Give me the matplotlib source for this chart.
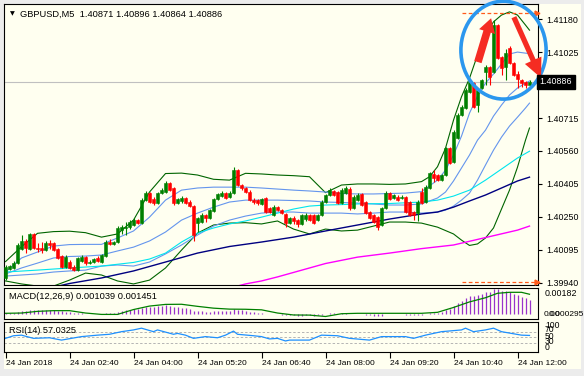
import numpy as np
import matplotlib
matplotlib.use("Agg")
import matplotlib.pyplot as plt
import matplotlib.transforms as mtransforms
from matplotlib.patches import Ellipse, Rectangle

plt.rcParams['font.family'] = ['Liberation Sans', 'DejaVu Sans']

# ---- GBPUSD M5 candles (24 Jan 2018, 01:20 .. 12:15) ----
opens = [1.39963, 1.40005, 1.40010, 1.40033, 1.40099, 1.40137, 1.40099, 1.40170, 1.40104, 1.40104,
         1.40094, 1.40127, 1.40127, 1.40099, 1.40066, 1.40014, 1.40038, 1.40014, 1.40000, 1.40043,
         1.40061, 1.40033, 1.40038, 1.40057, 1.40038, 1.40066, 1.40132, 1.40123, 1.40132, 1.40188,
         1.40198, 1.40202, 1.40212, 1.40235, 1.40221, 1.40329, 1.40362, 1.40334, 1.40315, 1.40362,
         1.40367, 1.40409, 1.40386, 1.40315, 1.40325, 1.40339, 1.40320, 1.40301, 1.40221, 1.40226,
         1.40259, 1.40245, 1.40278, 1.40334, 1.40348, 1.40362, 1.40343, 1.40362, 1.40470, 1.40400,
         1.40386, 1.40367, 1.40329, 1.40329, 1.40311, 1.40339, 1.40292, 1.40259, 1.40296, 1.40282,
         1.40264, 1.40221, 1.40245, 1.40235, 1.40217, 1.40240, 1.40259, 1.40259, 1.40235, 1.40259,
         1.40320, 1.40353, 1.40372, 1.40367, 1.40315, 1.40362, 1.40381, 1.40292, 1.40329, 1.40358,
         1.40320, 1.40273, 1.40259, 1.40249, 1.40212, 1.40292, 1.40362, 1.40339, 1.40343, 1.40339,
         1.40343, 1.40320, 1.40273, 1.40268, 1.40367, 1.40320, 1.40386, 1.40452, 1.40447, 1.40423,
         1.40447, 1.40574, 1.40508, 1.40621, 1.40729, 1.40762, 1.40837, 1.40879, 1.40776, 1.40856,
         1.40931, 1.40954, 1.40931, 1.41152, 1.41001, 1.40954, 1.41044, 1.40973, 1.40922, 1.40893,
         1.40884, 1.40871]
highs = [1.40024, 1.40024, 1.40043, 1.40127, 1.40165, 1.40146, 1.40174, 1.40174, 1.40127, 1.40132,
         1.40137, 1.40141, 1.40132, 1.40104, 1.40071, 1.40071, 1.40047, 1.40024, 1.40061, 1.40071,
         1.40066, 1.40047, 1.40057, 1.40066, 1.40076, 1.40141, 1.40146, 1.40137, 1.40207, 1.40212,
         1.40226, 1.40235, 1.40245, 1.40240, 1.40339, 1.40372, 1.40367, 1.40343, 1.40367, 1.40386,
         1.40419, 1.40414, 1.40390, 1.40339, 1.40348, 1.40343, 1.40329, 1.40306, 1.40249, 1.40268,
         1.40264, 1.40287, 1.40339, 1.40362, 1.40372, 1.40367, 1.40372, 1.40484, 1.40475, 1.40405,
         1.40390, 1.40376, 1.40339, 1.40334, 1.40339, 1.40343, 1.40296, 1.40306, 1.40301, 1.40287,
         1.40268, 1.40249, 1.40254, 1.40240, 1.40264, 1.40268, 1.40264, 1.40264, 1.40264, 1.40329,
         1.40358, 1.40386, 1.40376, 1.40372, 1.40386, 1.40395, 1.40390, 1.40353, 1.40362, 1.40362,
         1.40325, 1.40278, 1.40264, 1.40254, 1.40296, 1.40372, 1.40367, 1.40358, 1.40353, 1.40353,
         1.40348, 1.40325, 1.40278, 1.40329, 1.40386, 1.40400, 1.40461, 1.40470, 1.40452, 1.40452,
         1.40578, 1.40578, 1.40658, 1.40738, 1.40776, 1.40856, 1.40893, 1.40884, 1.40856, 1.40898,
         1.40964, 1.40959, 1.41175, 1.41157, 1.41006, 1.41039, 1.41053, 1.40978, 1.40936, 1.40898,
         1.40889, 1.40896]
lows = [1.39953, 1.40000, 1.40005, 1.40029, 1.40094, 1.40080, 1.40094, 1.40099, 1.40085, 1.40080,
        1.40090, 1.40099, 1.40090, 1.40052, 1.40010, 1.40010, 1.40005, 1.39996, 1.39996, 1.40038,
        1.40024, 1.40029, 1.40033, 1.40038, 1.40033, 1.40061, 1.40118, 1.40118, 1.40127, 1.40170,
        1.40165, 1.40193, 1.40207, 1.40217, 1.40217, 1.40325, 1.40315, 1.40306, 1.40311, 1.40358,
        1.40362, 1.40372, 1.40306, 1.40311, 1.40315, 1.40311, 1.40296, 1.40137, 1.40179, 1.40221,
        1.40226, 1.40240, 1.40273, 1.40329, 1.40343, 1.40334, 1.40339, 1.40358, 1.40395, 1.40376,
        1.40362, 1.40325, 1.40311, 1.40306, 1.40306, 1.40268, 1.40268, 1.40254, 1.40278, 1.40264,
        1.40202, 1.40217, 1.40217, 1.40202, 1.40212, 1.40231, 1.40231, 1.40217, 1.40231, 1.40254,
        1.40315, 1.40348, 1.40348, 1.40311, 1.40311, 1.40358, 1.40282, 1.40287, 1.40325, 1.40301,
        1.40264, 1.40240, 1.40221, 1.40188, 1.40207, 1.40287, 1.40329, 1.40334, 1.40325, 1.40334,
        1.40268, 1.40254, 1.40235, 1.40231, 1.40311, 1.40315, 1.40381, 1.40414, 1.40419, 1.40419,
        1.40442, 1.40499, 1.40503, 1.40616, 1.40724, 1.40757, 1.40832, 1.40762, 1.40743, 1.40851,
        1.40870, 1.40870, 1.40926, 1.40992, 1.40917, 1.40893, 1.40969, 1.40912, 1.40856, 1.40860,
        1.40856, 1.40864]
closes = [1.40014, 1.40019, 1.40033, 1.40118, 1.40137, 1.40104, 1.40170, 1.40104, 1.40099, 1.40094,
          1.40127, 1.40118, 1.40094, 1.40057, 1.40014, 1.40061, 1.40010, 1.40000, 1.40057, 1.40061,
          1.40033, 1.40038, 1.40052, 1.40043, 1.40071, 1.40132, 1.40123, 1.40132, 1.40198, 1.40202,
          1.40202, 1.40226, 1.40235, 1.40221, 1.40329, 1.40362, 1.40320, 1.40315, 1.40362, 1.40376,
          1.40409, 1.40376, 1.40315, 1.40334, 1.40339, 1.40315, 1.40301, 1.40165, 1.40245, 1.40259,
          1.40245, 1.40282, 1.40334, 1.40358, 1.40362, 1.40339, 1.40362, 1.40470, 1.40400, 1.40386,
          1.40367, 1.40329, 1.40320, 1.40315, 1.40334, 1.40273, 1.40273, 1.40296, 1.40282, 1.40268,
          1.40221, 1.40245, 1.40231, 1.40217, 1.40259, 1.40259, 1.40235, 1.40221, 1.40259, 1.40320,
          1.40353, 1.40376, 1.40353, 1.40315, 1.40376, 1.40386, 1.40292, 1.40343, 1.40353, 1.40306,
          1.40268, 1.40245, 1.40226, 1.40202, 1.40292, 1.40362, 1.40334, 1.40353, 1.40329, 1.40343,
          1.40273, 1.40259, 1.40259, 1.40320, 1.40315, 1.40390, 1.40456, 1.40433, 1.40423, 1.40447,
          1.40574, 1.40503, 1.40649, 1.40729, 1.40766, 1.40846, 1.40884, 1.40766, 1.40846, 1.40893,
          1.40954, 1.40907, 1.41152, 1.40997, 1.40950, 1.41020, 1.40973, 1.40917, 1.40898, 1.40879,
          1.40870, 1.40886]

# ---- indicator lines (bar index, price) ----
bb_bars = [0, 4, 8, 12, 16, 20, 24, 28, 32, 36, 40, 44, 48, 52, 56, 60, 64, 68, 72, 76, 80, 84,
           88, 92, 96, 100, 104, 106, 108, 110, 112, 114, 116, 118, 120, 122, 124, 126, 128, 130, 131]
bb_upper = [1.40040, 1.40110, 1.40173, 1.40181, 1.40183, 1.40176, 1.40155, 1.40170, 1.40235, 1.40367,
            1.40454, 1.40456, 1.40447, 1.40427, 1.40423, 1.40455, 1.40452, 1.40447, 1.40444, 1.40439,
            1.40364, 1.40400, 1.40405, 1.40405, 1.40403, 1.40405, 1.40416, 1.40439, 1.40486, 1.40573,
            1.40705, 1.40815, 1.40902, 1.41011, 1.41105, 1.41167, 1.41199, 1.41214, 1.41199, 1.41152,
            1.41128]
bbl_bars = [0, 4, 8, 12, 16, 20, 24, 28, 32, 36, 40, 44, 48, 52, 56, 60, 64, 68, 72, 76, 80, 84,
            88, 92, 96, 100, 104, 108, 112, 114, 116, 118, 120, 122, 124, 126, 128, 130, 131]
bb_lower = [1.39949, 1.39935, 1.39925, 1.39925, 1.39953, 1.39986, 1.39977, 1.39949, 1.39935, 1.39953,
            1.40010, 1.40094, 1.40174, 1.40212, 1.40221, 1.40223, 1.40217, 1.40231, 1.40193, 1.40170,
            1.40193, 1.40184, 1.40188, 1.40207, 1.40226, 1.40226, 1.40221, 1.40202, 1.40170, 1.40141,
            1.40116, 1.40123, 1.40151, 1.40198, 1.40287, 1.40376, 1.40484, 1.40611, 1.40668]
band_bars = [0, 4, 8, 12, 16, 20, 24, 28, 32, 36, 40, 44, 48, 52, 56, 60, 64, 68, 72, 76, 80, 84,
             88, 92, 96, 100, 104, 108, 110, 112, 114, 116, 118, 120, 122, 124, 126, 128, 130, 131]
blue_upper = [1.39991, 1.40057, 1.40085, 1.40113, 1.40120, 1.40121, 1.40121, 1.40151, 1.40184, 1.40249,
              1.40329, 1.40376, 1.40386, 1.40390, 1.40390, 1.40390, 1.40386, 1.40381, 1.40376, 1.40372,
              1.40367, 1.40360, 1.40358, 1.40358, 1.40360, 1.40362, 1.40369, 1.40423, 1.40470, 1.40541,
              1.40630, 1.40738, 1.40818, 1.40879, 1.40922, 1.40969, 1.41016, 1.41025, 1.41020, 1.41018]
blue_mid = [1.39982, 1.40010, 1.40033, 1.40057, 1.40064, 1.40066, 1.40071, 1.40090, 1.40108, 1.40137,
            1.40179, 1.40235, 1.40268, 1.40296, 1.40320, 1.40329, 1.40329, 1.40329, 1.40327, 1.40325,
            1.40320, 1.40318, 1.40315, 1.40311, 1.40306, 1.40306, 1.40311, 1.40339, 1.40367, 1.40419,
            1.40480, 1.40541, 1.40611, 1.40658, 1.40724, 1.40776, 1.40823, 1.40856, 1.40879, 1.40889]
blue_lower = [1.39972, 1.39977, 1.39982, 1.39991, 1.39996, 1.40000, 1.40019, 1.40024, 1.40019, 1.40038,
              1.40076, 1.40118, 1.40165, 1.40207, 1.40235, 1.40254, 1.40268, 1.40273, 1.40273, 1.40268,
              1.40268, 1.40268, 1.40264, 1.40268, 1.40273, 1.40273, 1.40268, 1.40273, 1.40282, 1.40301,
              1.40329, 1.40362, 1.40423, 1.40494, 1.40564, 1.40625, 1.40677, 1.40719, 1.40762, 1.40785]
cyan_bars = [0, 8, 16, 24, 32, 36, 40, 44, 48, 52, 56, 60, 64, 68, 72, 76, 80, 84, 88, 96, 104, 108,
             112, 116, 120, 124, 128, 131]
cyan_ma = [1.39991, 1.40000, 1.40010, 1.40019, 1.40036, 1.40052, 1.40080, 1.40132, 1.40174, 1.40198,
           1.40217, 1.40231, 1.40249, 1.40268, 1.40287, 1.40301, 1.40306, 1.40308, 1.40311, 1.40313,
           1.40320, 1.40329, 1.40348, 1.40376, 1.40423, 1.40475, 1.40527, 1.40559]
navy_bars = [12, 16, 24, 32, 40, 48, 56, 64, 72, 80, 88, 96, 104, 108, 112, 116, 120, 124, 128, 131]
navy_ma = [1.39920, 1.39937, 1.39963, 1.39996, 1.40038, 1.40080, 1.40111, 1.40132, 1.40155, 1.40184,
           1.40212, 1.40240, 1.40264, 1.40273, 1.40296, 1.40325, 1.40353, 1.40386, 1.40419, 1.40437]
magenta_bars = [58, 60, 64, 68, 72, 80, 88, 96, 104, 112, 120, 128, 131]
magenta_ma = [1.39925, 1.39935, 1.39949, 1.39968, 1.39989, 1.40031, 1.40061, 1.40080, 1.40101, 1.40118,
              1.40153, 1.40188, 1.40207]

# ---- MACD(12,26,9) ----
macd_hist = [0.00008, 0.0001, 0.00012, 0.00018, 0.00025, 0.00027, 0.0003, 0.00031, 0.0003, 0.0003,
             0.0003, 0.0003, 0.00029, 0.00027, 0.00022, 0.0002, 0.00015, 0.0001, 0.0001, 0.00008,
             0.00006, 0.00005, 0.00004, 0.00003, 0.00004, 0.0001, 0.00012, 0.00013, 0.0002, 0.00025,
             0.0003, 0.00033, 0.00037, 0.00038, 0.00048, 0.00055, 0.00056, 0.00055, 0.0006, 0.00062,
             0.00066, 0.00064, 0.00055, 0.0005, 0.00048, 0.00045, 0.0004, 0.00025, 0.00022, 0.00022,
             0.0002, 0.0002, 0.00024, 0.00027, 0.00028, 0.00027, 0.00028, 0.00036, 0.00035, 0.00031,
             0.00027, 0.0002, 0.00015, 0.00012, 0.0001, 0.00005, 0.00002, 0.00001, 0.0, -0.00002,
             -0.00005, -0.00006, -0.00007, -0.00009, -0.00008, -0.00007, -0.00007, -0.00008, -0.00007, -0.00002,
             0.00003, 0.00007, 0.00008, 0.00005, 0.00007, 0.0001, 0.00005, 0.00005, 0.00005, 0.00003,
             -0.00001, -0.00005, -0.00008, -0.00012, -0.00008, 0.0, 0.00001, 0.00002, 0.00002, 0.0,
             -0.00004, -0.00006, -0.00007, -0.00003, -0.00002, 0.00003, 0.0001, 0.00012, 0.00013, 0.00015,
             0.00035, 0.0004, 0.0006, 0.0008, 0.001, 0.0012, 0.00135, 0.0013, 0.0014, 0.0015,
             0.00158, 0.0016, 0.0018, 0.0018, 0.0017, 0.0017, 0.0016, 0.0015, 0.0014, 0.00128,
             0.00115, 0.001039]
sig_bars = [0, 4, 8, 12, 16, 20, 24, 28, 32, 36, 40, 44, 48, 52, 56, 60, 64, 68, 72, 76, 80, 84, 88,
            96, 104, 108, 112, 116, 120, 123, 126, 129, 131]
macd_signal = [0.00008, 0.0001, 0.00022, 0.00027, 0.00027, 0.0001, 0.0, 0.0, 0.00035, 0.0006, 0.00072,
               0.00073, 0.00058, 0.00045, 0.00038, 0.00037, 0.00033, 0.0001, -0.00004, -0.00005, -0.00015,
               0.00005, 0.00008, 0.00008, 0.00008, 0.00015, 0.0005, 0.0009, 0.0012, 0.00152, 0.00159,
               0.00159, 0.001451]

# ---- RSI(14) ----
rsi_bars = [0, 2, 4, 7, 11, 14, 19, 23, 26, 29, 32, 34, 37, 38, 42, 43, 45, 47, 50, 53, 55, 57,
            58, 62, 64, 66, 68, 70, 71, 76, 79, 83, 86, 91, 94, 100, 102, 105, 109, 114, 115, 117,
            120, 122, 124, 129, 131]
rsi_vals = [47, 56, 58, 47, 49, 41, 53, 58, 61, 70, 76, 82, 70, 76, 61, 64, 58, 47, 53, 49, 58, 72,
            61, 56, 53, 45, 47, 38, 41, 41, 58, 56, 47, 41, 53, 53, 47, 58, 70, 76, 82, 70,
            76, 82, 70, 58, 57.0325]

price_levels = [1.39940, 1.40095, 1.40250, 1.40405, 1.40560, 1.40715, 1.40870, 1.41025, 1.41180]
time_bars = [0, 16, 32, 48, 64, 80, 96, 112, 128]
time_labels = ['24 Jan 2018', '24 Jan 02:40', '24 Jan 04:00', '24 Jan 05:20', '24 Jan 06:40',
               '24 Jan 08:00', '24 Jan 09:20', '24 Jan 10:40', '24 Jan 12:00']
high_mark, low_mark = 1.41210, 1.39945

# colours
IVORY = '#fffff0'
GRAY = '#ececec'
BULL = '#008000'
BEAR = '#ff0000'
BB = '#006400'
BLUE = '#6495ed'
CYAN = '#00e5ee'
NAVY = '#000080'
MAGENTA = '#ff00ff'
ORANGE = '#ff5a1a'

W, H = 584, 376


def box(x0, y0, x1, y1):
    return [x0 / W, 1 - y1 / H, (x1 - x0) / W, (y1 - y0) / H]


fig = plt.figure(figsize=(W / 100, H / 100), dpi=100)
fig.patch.set_facecolor(GRAY)
bg = fig.add_axes([0, 0, 1, 1])
bg.set_xlim(0, W)
bg.set_ylim(H, 0)
bg.axis('off')
bg.add_patch(Rectangle((4, 4), 577, 365, facecolor=IVORY, edgecolor='none'))

ax = fig.add_axes(box(4, 4, 538, 285))
ax_m = fig.add_axes(box(4, 288, 538, 319))
ax_r = fig.add_axes(box(4, 321.5, 538, 352))

x = np.arange(len(closes))
o, h, l, c = map(np.array, (opens, highs, lows, closes))
XLIM = (-0.375, 133.125)

for a in (ax, ax_m, ax_r):
    a.set_facecolor(IVORY)
    a.set_xlim(*XLIM)
    for s in a.spines.values():
        s.set_color('black')
        s.set_linewidth(0.8)

# price panel
ax.set_ylim(1.39930, 1.41251)
ax.axhline(c[-1], color='#c0c0c0', lw=0.8, zorder=1)

ax.plot(bb_bars, bb_upper, color=BB, lw=0.8, zorder=2)
ax.plot(bbl_bars, bb_lower, color=BB, lw=0.8, zorder=2)
for vals in (blue_upper, blue_mid, blue_lower):
    ax.plot(band_bars, vals, color=BLUE, lw=0.8, zorder=2)
ax.plot(cyan_bars, cyan_ma, color=CYAN, lw=0.8, zorder=2)
ax.plot(navy_bars, navy_ma, color=NAVY, lw=1.0, zorder=2)
ax.plot(magenta_bars, magenta_ma, color=MAGENTA, lw=1.0, zorder=2)

up = c >= o
cols = np.where(up, BULL, BEAR)
ax.vlines(x, l, h, colors=cols, lw=0.8, zorder=3)
body = np.maximum(np.abs(c - o), 0.00002)
ax.bar(x, body, bottom=np.minimum(o, c), width=0.7, color=cols, edgecolor=cols,
       linewidth=0.4, zorder=4)

for lvl in (high_mark, low_mark):
    ax.plot([114, 132.6], [lvl, lvl], color=ORANGE, lw=0.9, ls=(0, (3, 2)), zorder=5)
    ax.plot([132.8], [lvl], marker='>', color=ORANGE, ms=3.5, clip_on=False, zorder=5)

ax.set_xticks([])
ax.yaxis.tick_right()
ax.set_yticks(price_levels)
# the 1.40870 label sits under the bid box
ax.set_yticklabels(['' if abs(v - 1.40870) < 1e-6 else f'{v:.5f}' for v in price_levels])
ax.tick_params(axis='y', direction='out', length=3, width=0.8, pad=3, labelsize=6.4)

yblend = mtransforms.blended_transform_factory(ax.transAxes, ax.transData)
ax.text(1.003, c[-1], f'{c[-1]:.5f}', transform=yblend, color='white', fontsize=6.4,
        va='center', ha='left', zorder=10,
        bbox=dict(boxstyle='square,pad=0.28', fc='black', ec='black'))

ax.text(0.012, 0.975, '\u25bc', transform=ax.transAxes, fontsize=4.5, va='top', ha='left',
        family='DejaVu Sans')
ax.text(0.03, 0.98, 'GBPUSD,M5  ' + ' '.join(f'{v:.5f}' for v in (o[-1], h[-1], l[-1], c[-1])),
        transform=ax.transAxes, fontsize=6.7, va='top', ha='left')

# annotations: circle and arrows
ax.add_patch(Ellipse((124.5, 1.41034), 21.3, 0.0046, fill=False, ec='#2b97ee', lw=2.6,
                     clip_on=False, zorder=8))
ax.annotate('', xy=(121.4, 1.41184), xytext=(118.1, 1.40978), annotation_clip=False,
            arrowprops=dict(arrowstyle='simple,head_length=1.0,head_width=1.2,tail_width=0.55',
                            color='#f52c22', lw=0, mutation_scale=10, shrinkA=0, shrinkB=0),
            zorder=9)
ax.annotate('', xy=(133.9, 1.40903), xytext=(127.1, 1.41189), annotation_clip=False,
            arrowprops=dict(arrowstyle='simple,head_length=1.4,head_width=1.3,tail_width=0.38',
                            color='#f52c22', lw=0, mutation_scale=10, shrinkA=0, shrinkB=0),
            zorder=9)

# MACD panel
ax_m.set_ylim(-0.00033, 0.0019)
ax_m.vlines(x, 0, macd_hist, colors='#9932cc', lw=0.9)
ax_m.plot(sig_bars, macd_signal, color=BULL, lw=0.9)
ax_m.set_xticks([])
ax_m.set_yticks([])
ax_m.text(0.01, 0.72, 'MACD(12,26,9) 0.001039 0.001451', transform=ax_m.transAxes,
          fontsize=6.7, va='center', ha='left')
mblend = mtransforms.blended_transform_factory(ax_m.transAxes, ax_m.transData)
ax_m.text(1.013, 0.00182, '0.00182', transform=mblend, fontsize=6.4, va='top', ha='left')
ax_m.text(1.011, -0.00004, '0.00', transform=mblend, fontsize=6.0, va='center', ha='left')
ax_m.text(1.02, 0.0, '0.000295', transform=mblend, fontsize=6.0, va='center', ha='left')

# RSI panel
ax_r.set_ylim(0, 105)
for lvl in (70, 50, 30):
    ax_r.axhline(lvl, color='#b4b4b4', lw=0.7, ls=(0, (2.5, 2)))
ax_r.plot(rsi_bars, rsi_vals, color='#1e90ff', lw=0.9)
ax_r.set_yticks([])
ax_r.text(0.01, 0.72, 'RSI(14) 57.0325', transform=ax_r.transAxes, fontsize=6.6,
          va='center', ha='left')
rblend = mtransforms.blended_transform_factory(ax_r.transAxes, ax_r.transData)
for v, lab in ((90, '100'), (78, '70'), (52, '50'), (36, '30'), (14, '0')):
    ax_r.text(1.013, v, lab, transform=rblend, fontsize=6.2, va='center', ha='left')
ax_r.set_xticks(time_bars)
ax_r.set_xticklabels(time_labels, ha='left')
ax_r.tick_params(axis='x', direction='out', length=4, width=0.8, pad=2, labelsize=6.0)

fig.savefig('out.png', dpi=100, facecolor=fig.get_facecolor())
